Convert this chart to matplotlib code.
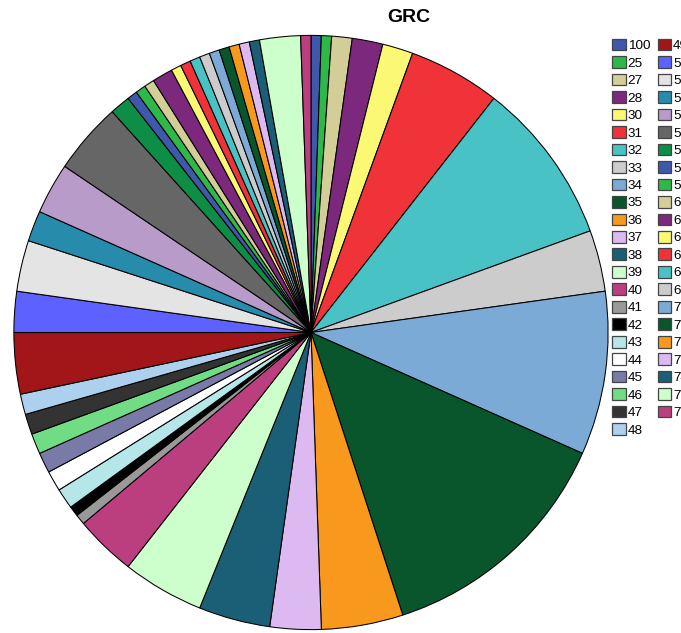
import matplotlib
matplotlib.use("Agg")
import matplotlib.pyplot as plt
from matplotlib.patches import Patch

plt.rcParams['font.family'] = ['Liberation Sans', 'DejaVu Sans']

# Category labels (GRC codes) and their counts
categories = ["100", "25", "27", "28", "30", "31", "32", "33", "34", "35",
              "36", "37", "38", "39", "40", "41", "42", "43", "44", "45",
              "46", "47", "48", "49", "50", "51", "52", "53", "54", "55",
              "56", "57", "60", "61", "62", "63", "64", "65", "70", "71",
              "72", "73", "74", "75", "76"]
counts = [1, 1, 2, 3, 3, 9, 16, 6, 16, 24,
          8, 5, 7, 8, 6, 1, 1, 2, 2, 2,
          2, 2, 2, 6, 4, 5, 3, 5, 7, 2,
          1, 1, 1, 2, 1, 1, 1, 1, 1, 1,
          1, 1, 1, 4, 1]

# 30-colour cycle used for the slices
palette = ["#3E58AC", "#2EB848", "#D3CE97", "#7C287D", "#FBF873", "#EF3338",
           "#48C2C5", "#CCCCCC", "#7AAAD5", "#0A562C", "#F8981D", "#DDB9F1",
           "#1A5F76", "#CCFFCC", "#BB3F7F", "#999999", "#000000", "#B6E7E8",
           "#FFFFFF", "#797AA7", "#70DC84", "#333333", "#ACD0EE", "#A21619",
           "#5D61FF", "#E4E4E4", "#278BAC", "#B89BC9", "#666666", "#0D8D46"]
colors = [palette[i % len(palette)] for i in range(len(categories))]

W, H = 681, 633
fig = plt.figure(figsize=(W / 100, H / 100), dpi=100)

cx, cy, r = 311, 332.5, 298
ax = fig.add_axes([(cx - r) / W, (H - cy - r) / H, 2 * r / W, 2 * r / H])
ax.pie(counts, colors=colors, startangle=90, counterclock=False, radius=1,
       wedgeprops=dict(edgecolor="black", linewidth=0.75))
ax.set_xlim(-1.003, 1.003)
ax.set_ylim(-1.003, 1.003)
ax.set_aspect("equal")
ax.axis("off")

fig.text(409 / W, 1 - 17 / H, "GRC", ha="center", va="center",
         fontsize=14, fontweight="bold")

handles = [Patch(facecolor=c, edgecolor="#444444", linewidth=0.9) for c in colors]
fig.legend(handles, categories, loc="upper left", ncol=2,
           bbox_to_anchor=(609.5 / W, 1 - 36 / H), frameon=False,
           fontsize=9.7, handlelength=1.0, handleheight=0.95,
           handletextpad=0.15, labelspacing=0.3, columnspacing=0.55,
           borderpad=0.2, borderaxespad=0)

fig.savefig("out.png", dpi=100)
